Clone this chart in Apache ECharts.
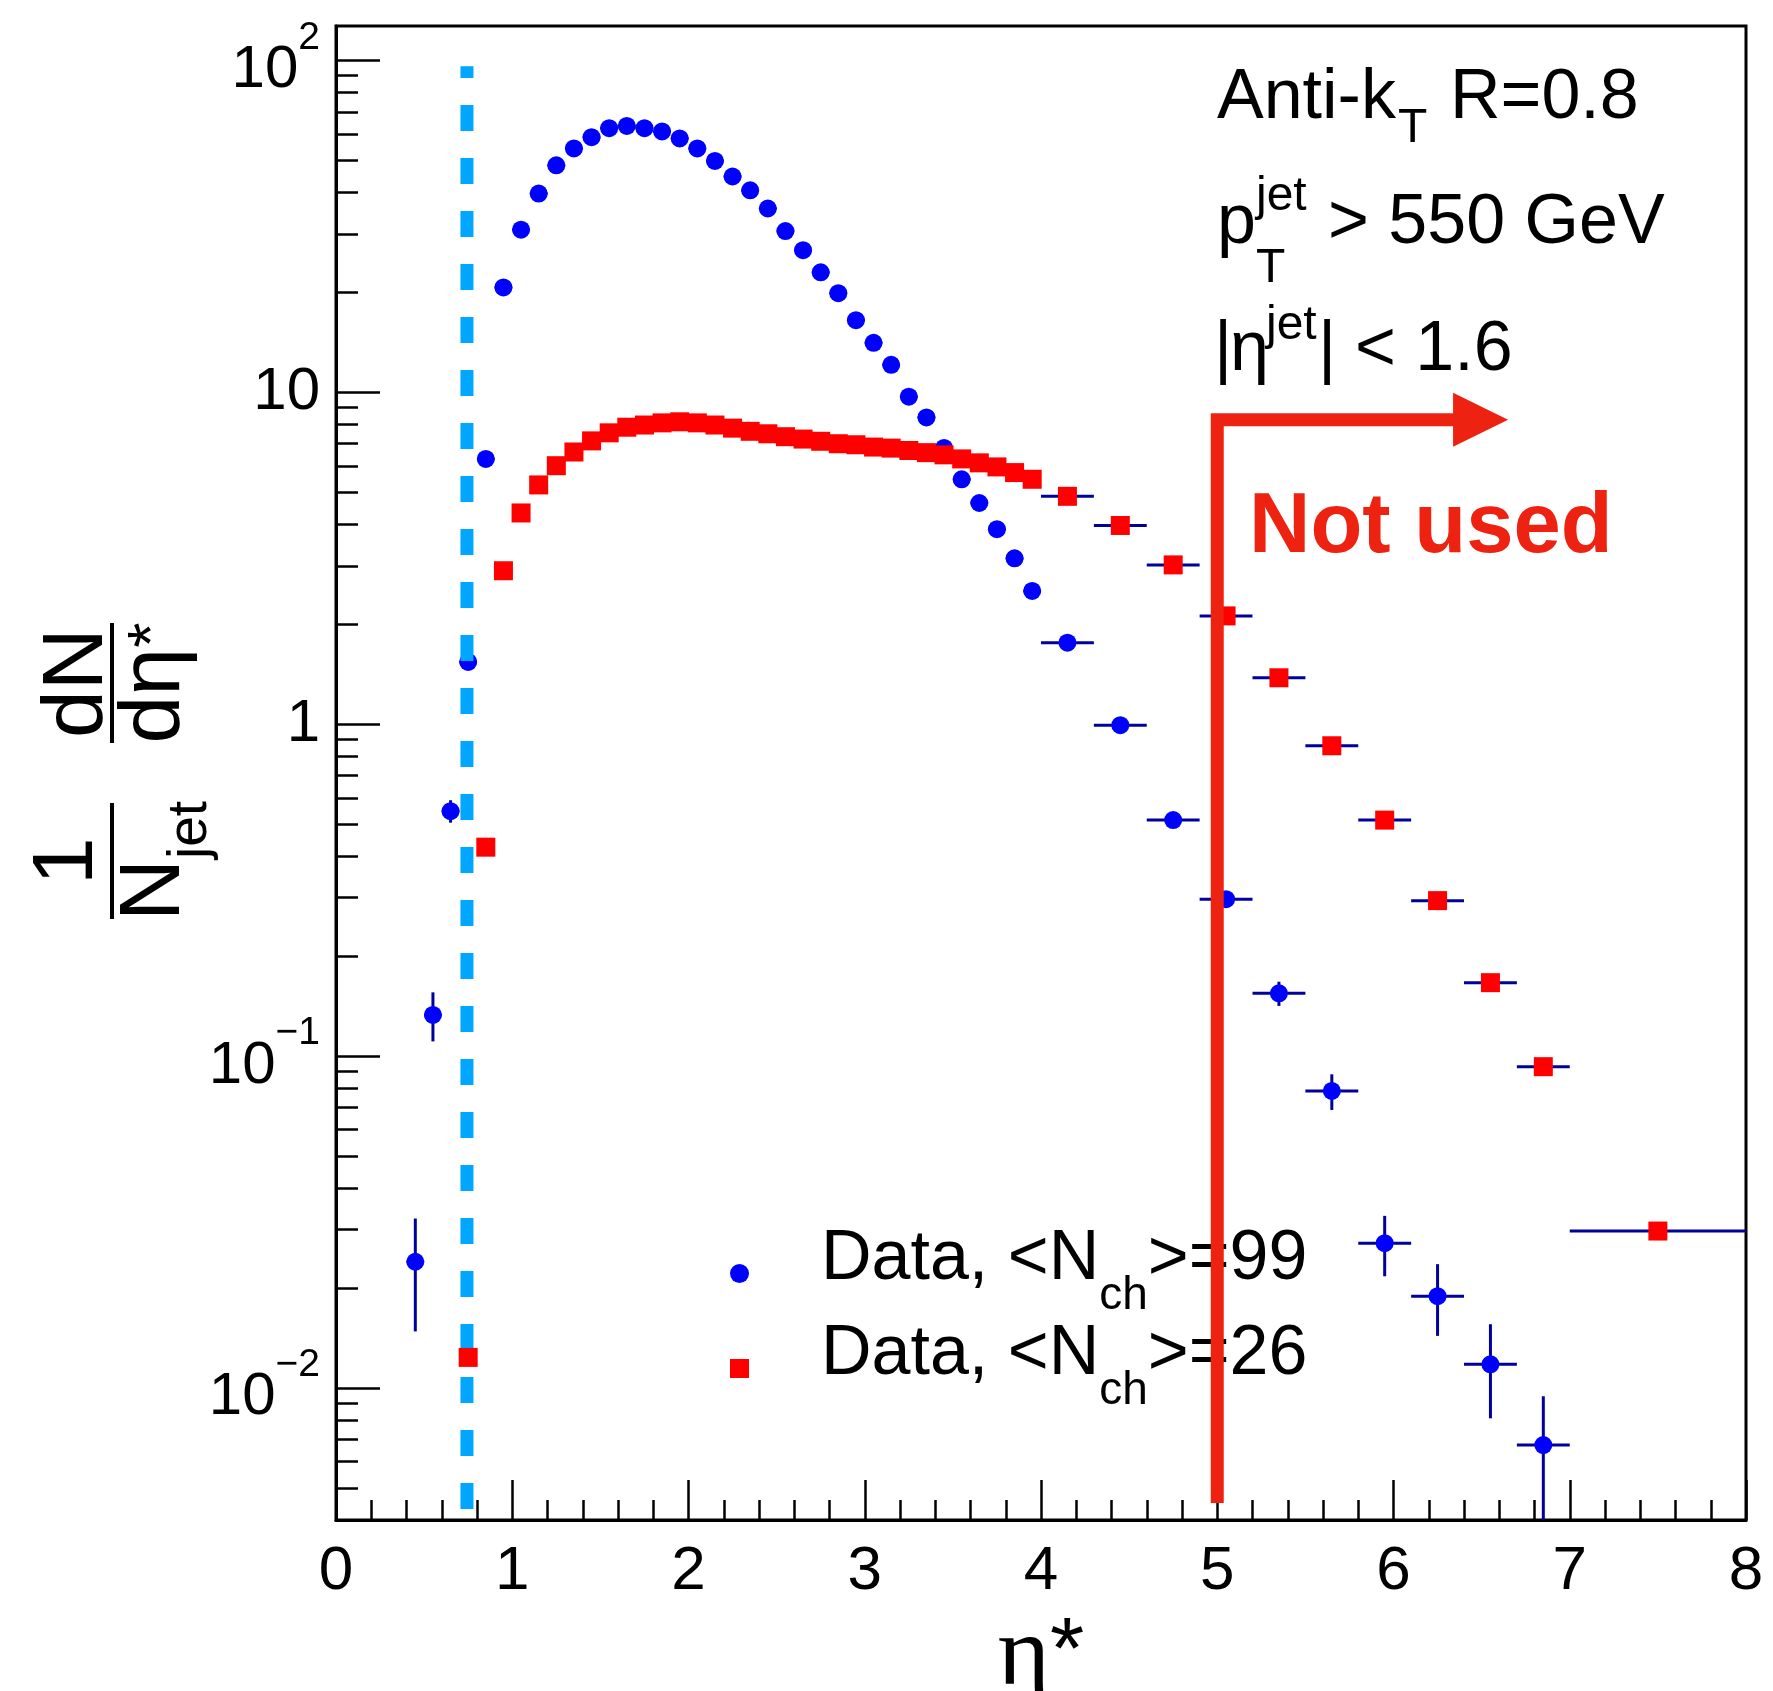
<!DOCTYPE html>
<html>
<head>
<meta charset="utf-8">
<script src="https://cdn.jsdelivr.net/npm/echarts@6/dist/echarts.min.js"></script>
<style>
html,body{margin:0;padding:0;background:#ffffff;}
#chart{width:1773px;height:1691px;}
</style>
</head>
<body>
<div id="chart"></div>
<script>
// ---------------- data ----------------
// narrow bins (width 0.1)
const blueEtaNarrow = [0.45,0.55,0.65,0.75,0.85,0.95,1.05,1.15,1.25,1.35,1.45,1.55,1.65,1.75,1.85,1.95,2.05,2.15,2.25,2.35,2.45,2.55,2.65,2.75,2.85,2.95,3.05,3.15,3.25,3.35,3.45,3.55,3.65,3.75,3.85,3.95];
const blueValNarrow = [0.024,0.133,0.547,1.54,6.3,20.7,30.9,39.7,48.3,54.3,58.7,62.5,63.5,62.5,61.1,58.2,54.3,49.8,44.7,40.6,35.8,30.6,26.8,23.0,19.9,16.5,14.1,12.1,9.7,8.4,6.8,5.47,4.64,3.87,3.16,2.52];
const redEtaNarrow = [0.75,0.85,0.95,1.05,1.15,1.25,1.35,1.45,1.55,1.65,1.75,1.85,1.95,2.05,2.15,2.25,2.35,2.45,2.55,2.65,2.75,2.85,2.95,3.05,3.15,3.25,3.35,3.45,3.55,3.65,3.75,3.85,3.95];
const redValNarrow = [0.01236,0.426,2.90,4.33,5.26,6.01,6.61,7.14,7.55,7.85,7.97,8.09,8.15,8.09,7.97,7.8,7.63,7.5,7.35,7.23,7.12,7.0,6.95,6.84,6.79,6.68,6.58,6.48,6.3,6.13,5.96,5.73,5.47];
const narrowHalfWidth = 0.05;
// wide bins (width 0.3)
const wideEta = [4.15,4.45,4.75,5.05,5.35,5.65,5.95,6.25,6.55,6.85];
const wideLo  = [4.0,4.3,4.6,4.9,5.2,5.5,5.8,6.1,6.4,6.7];
const wideHi  = [4.3,4.6,4.9,5.2,5.5,5.8,6.1,6.4,6.7,7.0];
const blueValWide = [1.76,0.993,0.514,0.297,0.1546,0.0785,0.0273,0.0189,0.01178,0.00673];
const redValWide  = [4.86,3.97,3.02,2.12,1.38,0.861,0.514,0.294,0.1664,0.0929];
// last wide bin (red only)
const redEtaLast = [7.5];
const redLoLast  = [7.0];
const redHiLast  = [8.0];
const redValLast = [0.0297];
// visible vertical error bars: [eta, low, high]
const blueYErr = [[0.45,0.0148,0.0324],[0.55,0.1107,0.1556],[0.65,0.505,0.59],[5.35,0.1416,0.1675],[5.65,0.0688,0.0881],[5.95,0.0217,0.0330],[6.25,0.01435,0.0236],[6.55,0.0081,0.01556],[6.85,0.003,0.00944]];
const redYErr = [];
// annotation lines (data space)
const cutLine = [[0.743,0.00432],[0.743,96]];
const notUsedPath = [[5.0,0.0045],[5.0,8.27],[6.49,8.27]];
const arrowHead = [[6.494,8.27]];
// axes
const yMin = 0.004, yMax = 127;
const yMajorTicks = [0.01,0.1,1,10,100];
const yMajorLabels = ['{b|10}{s|\u22122}','{b|10}{s|\u22121}','{p|1}','{p|10}','{b|10}{s|2}'];
const yMinorTicks = [0.005,0.006,0.007,0.008,0.009,0.02,0.03,0.04,0.05,0.06,0.07,0.08,0.09,0.2,0.3,0.4,0.5,0.6,0.7,0.8,0.9,2,3,4,5,6,7,8,9,20,30,40,50,60,70,80,90];

// ---------------- build ----------------
const FONT = '"Liberation Sans", Helvetica, Arial, sans-serif';
function yErrLookup(list, x, y) {
  for (const e of list) { if (Math.abs(e[0] - x) < 1e-6) return [e[1], e[2]]; }
  return [y, y];
}
function buildPoints(etaN, valN, etaW, loW, hiW, valW, etaL, loL, hiL, valL, errList) {
  const pts = [];
  etaN.forEach((x, i) => pts.push([x, valN[i], x - narrowHalfWidth, x + narrowHalfWidth]));
  etaW.forEach((x, i) => pts.push([x, valW[i], loW[i], hiW[i]]));
  etaL.forEach((x, i) => pts.push([x, valL[i], loL[i], hiL[i]]));
  return pts.map(p => { const e = yErrLookup(errList, p[0], p[1]); return [p[0], p[1], p[2], p[3], e[0], e[1]]; });
}
const bluePts = buildPoints(blueEtaNarrow, blueValNarrow, wideEta, wideLo, wideHi, blueValWide, [], [], [], [], blueYErr);
const redPts = buildPoints(redEtaNarrow, redValNarrow, wideEta, wideLo, wideHi, redValWide, redEtaLast, redLoLast, redHiLast, redValLast, redYErr);

const ERR_COLOR = '#00009c';
function renderErr(params, api) {
  const x = api.value(0), y = api.value(1);
  const l = api.coord([api.value(2), y]);
  const r = api.coord([api.value(3), y]);
  const b = api.coord([x, api.value(4)]);
  const t = api.coord([x, api.value(5)]);
  return {
    type: 'group',
    children: [
      {type: 'line', shape: {x1: l[0], y1: l[1], x2: r[0], y2: r[1]}, style: {stroke: ERR_COLOR, lineWidth: 3}},
      {type: 'line', shape: {x1: b[0], y1: b[1], x2: t[0], y2: t[1]}, style: {stroke: ERR_COLOR, lineWidth: 3}}
    ]
  };
}

const NAME_BLUE = 'Data, <N_ch>=99';
const NAME_RED = 'Data, <N_ch>=26';

function txt(x, y, text, size, extra) {
  return {
    type: 'text', x: x, y: y, silent: true,
    style: Object.assign({text: text, font: size + 'px ' + FONT, fill: '#000', align: 'left', verticalAlign: 'middle', textAlign: 'left', textVerticalAlign: 'middle'}, extra || {})
  };
}
const M = 0.3465; // middle-to-baseline ratio
const D = 5;      // small downward nudge for top-right labels

const chart = echarts.init(document.getElementById('chart'), null, {renderer: 'canvas'});
const option = {
  animation: false,
  backgroundColor: '#ffffff',
  grid: {left: 336, top: 26, right: 27, bottom: 171, show: true, borderColor: '#000', borderWidth: 3, backgroundColor: 'transparent', containLabel: false, outerBoundsMode: 'none'},
  xAxis: {
    type: 'value', min: 0, max: 8, interval: 1,
    axisLine: {show: true, onZero: false, lineStyle: {color: '#000', width: 3}},
    axisTick: {show: true, inside: true, length: 40, lineStyle: {color: '#000', width: 2.5}},
    minorTick: {show: true, splitNumber: 5, length: 20, lineStyle: {color: '#000', width: 2.5}},
    axisLabel: {color: '#000', fontSize: 62, fontFamily: FONT, margin: 21},
    splitLine: {show: false},
    name: '{e|\u03b7}{a|*}', nameLocation: 'middle', nameGap: 69,
    nameTextStyle: {color: '#000', rich: {
      e: {fontSize: 100, fontFamily: '"Liberation Serif", "Times New Roman", serif', lineHeight: 100, color: '#000'},
      a: {fontSize: 88, fontFamily: FONT, lineHeight: 100, color: '#000', padding: [0, 0, 8, 0]}
    }}
  },
  yAxis: [
    {
      type: 'log', logBase: 10, min: yMin, max: yMax, position: 'left',
      axisLine: {show: true, lineStyle: {color: '#000', width: 3}},
      axisTick: {show: true, inside: true, length: 44, customValues: yMajorTicks, lineStyle: {color: '#000', width: 2.5}},
      minorTick: {show: false},
      splitLine: {show: false},
      axisLabel: {
        customValues: yMajorTicks, margin: 16, color: '#000',
        formatter: function (v) {
          for (let i = 0; i < yMajorTicks.length; i++) {
            if (Math.abs(Math.log10(v) - Math.log10(yMajorTicks[i])) < 1e-6) return yMajorLabels[i];
          }
          return '';
        },
        rich: {
          p: {fontSize: 60, fontFamily: FONT, color: '#000', lineHeight: 70},
          b: {fontSize: 60, fontFamily: FONT, color: '#000', lineHeight: 70, padding: [20, 0, 0, 0]},
          s: {fontSize: 39, fontFamily: FONT, color: '#000', lineHeight: 70, padding: [0, 0, 45, 0]}
        }
      }
    },
    {
      type: 'log', logBase: 10, min: yMin, max: yMax, position: 'left',
      axisLine: {show: false},
      axisTick: {show: true, inside: true, length: 22, customValues: yMinorTicks, lineStyle: {color: '#000', width: 2.5}},
      axisLabel: {show: false},
      splitLine: {show: false}
    }
  ],
  legend: {
    orient: 'vertical', left: 730, top: 1225, padding: 0, itemGap: -2,
    itemWidth: 19, itemHeight: 19, selectedMode: false,
    data: [NAME_BLUE, NAME_RED],
    formatter: function (name) {
      const val = name === NAME_BLUE ? '99' : '26';
      return '{sp| }{m|Data, <N}{c|ch}{m|>=' + val + '}';
    },
    textStyle: {
      color: '#000',
      rich: {
        sp: {width: 67, fontSize: 20, lineHeight: 76},
        m: {fontSize: 70, fontFamily: FONT, color: '#000', lineHeight: 76, padding: [0, 0, 27, 0]},
        c: {fontSize: 46, fontFamily: FONT, color: '#000', lineHeight: 76, padding: [46, 0, 0, 0]}
      }
    }
  },
  series: [
    {
      type: 'custom', name: 'errors', renderItem: renderErr, clip: true, silent: true, z: 2,
      encode: {x: 0, y: 1},
      data: bluePts.concat(redPts)
    },
    {
      type: 'scatter', name: NAME_BLUE, data: bluePts.map(p => [p[0], p[1]]),
      symbol: 'circle', symbolSize: 18, itemStyle: {color: '#0000ff', opacity: 1}, silent: true, z: 3
    },
    {
      type: 'line', name: 'cut', data: cutLine, symbol: 'none', silent: true, z: 4,
      lineStyle: {color: '#00a6ff', width: 13, type: [26, 27], cap: 'butt'}
    },
    {
      type: 'scatter', name: NAME_RED, data: redPts.map(p => [p[0], p[1]]),
      symbol: 'rect', symbolSize: 19, itemStyle: {color: '#ff0000', opacity: 1}, silent: true, z: 5
    },
    {
      type: 'line', name: 'notused', data: notUsedPath, symbol: 'none', silent: true, z: 10,
      lineStyle: {color: '#ee2211', width: 13, join: 'miter', cap: 'butt'}
    },
    {
      type: 'scatter', name: 'arrow', data: arrowHead, symbol: 'triangle', symbolRotate: -90,
      symbolSize: [54, 55], itemStyle: {color: '#ee2211', opacity: 1}, silent: true, z: 10
    }
  ],
  graphic: [
    // top-right labels
    txt(1217, 118 + D - M * 70, 'Anti-k', 70),
    txt(1398, 140 + D - M * 48, 'T', 48),
    txt(1450, 118 + D - M * 70, 'R=0.8', 70),
    txt(1217, 243 + D - M * 70, 'p', 70),
    txt(1256, 208 + D - M * 48, 'jet', 48),
    txt(1256, 280 + D - M * 48, 'T', 48),
    txt(1328, 243 + D - M * 70, '> 550 GeV', 70),
    txt(1214, 370 + D - M * 70, '|', 70),
    txt(1230, 370 + D - M * 70, '\u03b7', 70),
    txt(1266, 337 + D - M * 48, 'jet', 48),
    txt(1318, 370 + D - M * 70, '|', 70),
    txt(1355, 370 + D - M * 70, '< 1.6', 70),
    // "Not used"
    txt(1249, 558 - M * 85, 'Not used', 85, {font: 'bold 85px ' + FONT, fill: '#ee2211'}),
    // y-axis title
    {
      type: 'group', x: 112, y: 773, rotation: Math.PI / 2, silent: true,
      children: [
        {type: 'rect', shape: {x: -146, y: -2, width: 116, height: 4}, style: {fill: '#000'}},
        {type: 'rect', shape: {x: 30, y: -2, width: 120, height: 4}, style: {fill: '#000'}},
        {type: 'text', x: -88, y: -14 - M * 86, style: {text: '1', font: '86px ' + FONT, fill: '#000', align: 'center', verticalAlign: 'middle', textAlign: 'center', textVerticalAlign: 'middle'}},
        {type: 'text', x: -88, y: 73 - M * 86, style: {text: '{n|N}{j|jet}', fill: '#000', align: 'center', verticalAlign: 'middle', textAlign: 'center', textVerticalAlign: 'middle',
          rich: {n: {font: '86px ' + FONT, fill: '#000', lineHeight: 90}, j: {font: '55px ' + FONT, fill: '#000', lineHeight: 90, padding: [72, 0, 0, 0]}}}},
        {type: 'text', x: 90, y: -4 - M * 86, style: {text: 'dN', font: '86px ' + FONT, fill: '#000', align: 'center', verticalAlign: 'middle', textAlign: 'center', textVerticalAlign: 'middle'}},
        {type: 'text', x: 90, y: 73 - M * 86, style: {text: '{d|d\u03b7}{a|*}', fill: '#000', align: 'center', verticalAlign: 'middle', textAlign: 'center', textVerticalAlign: 'middle',
          rich: {d: {font: '86px ' + FONT, fill: '#000', lineHeight: 90}, a: {font: '65px ' + FONT, fill: '#000', lineHeight: 90}}}}
      ]
    }
  ]
};
chart.setOption(option);
</script>
</body>
</html>
